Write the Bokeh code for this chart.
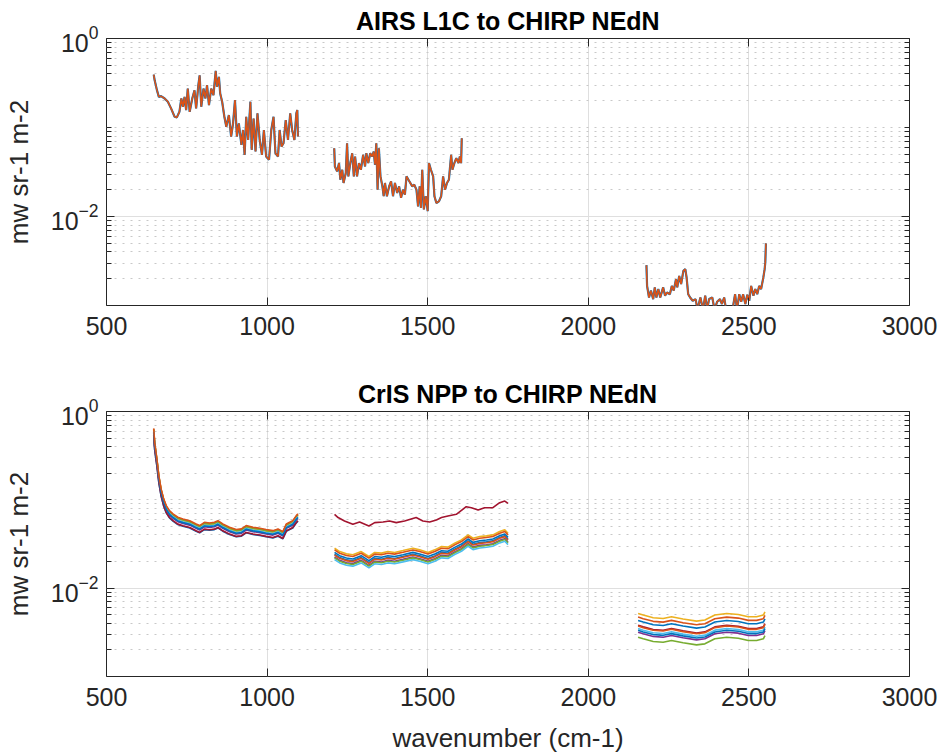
import numpy as np
from bokeh.plotting import figure
from bokeh.models import Range1d, FixedTicker, LinearAxis, LogAxis
from bokeh.layouts import column
from bokeh.embed import file_html
from bokeh.resources import INLINE

# ---------------- data ----------------
# AIRS L1C -> CHIRP NEdN (three AIRS bands)
airs_wn_b1 = [647, 650, 657, 663, 670, 681, 691, 701, 712, 719, 727, 733, 738, 743, 748, 753, 759, 767,
              774, 779, 786, 790, 795, 802, 808, 813, 819, 826, 833, 840, 844, 850, 854, 860, 867, 873,
              881, 888, 894, 900, 906, 912, 920, 925, 930, 935, 941, 948, 952, 958, 964, 970, 977, 984,
              990, 997, 1006, 1013, 1020, 1026, 1034, 1039, 1045, 1051, 1058, 1065, 1072, 1078, 1085,
              1091, 1094, 1096]
airs_ne_b1 = [0.393, 0.339, 0.263, 0.221, 0.225, 0.212, 0.195, 0.164, 0.132, 0.130, 0.150, 0.212, 0.171,
              0.221, 0.157, 0.274, 0.150, 0.212, 0.262, 0.164, 0.299, 0.386, 0.171, 0.274, 0.212, 0.299,
              0.178, 0.274, 0.231, 0.432, 0.286, 0.370, 0.241, 0.195, 0.132, 0.102, 0.138, 0.0791, 0.111,
              0.203, 0.0791, 0.111, 0.0637, 0.0938, 0.0493, 0.132, 0.0724, 0.195, 0.0561, 0.126, 0.0537,
              0.144, 0.0724, 0.0493, 0.0938, 0.0472, 0.0434, 0.0938, 0.132, 0.0514, 0.0472, 0.0938,
              0.0611, 0.0665, 0.121, 0.0724, 0.144, 0.0938, 0.0724, 0.144, 0.157, 0.0791]
airs_wn_b2 = [1209, 1211, 1218, 1224, 1228, 1234, 1238, 1245, 1249, 1253, 1259, 1265, 1270, 1274, 1280,
              1286, 1292, 1299, 1305, 1309, 1315, 1321, 1327, 1332, 1336, 1340, 1344, 1348, 1353, 1359,
              1363, 1367, 1373, 1380, 1386, 1392, 1398, 1405, 1411, 1417, 1423, 1429, 1434, 1440, 1446,
              1452, 1458, 1465, 1470, 1475, 1479, 1483, 1488, 1494, 1500, 1504, 1510, 1517, 1521, 1527,
              1535, 1542, 1548, 1554, 1560, 1566, 1573, 1577, 1583, 1589, 1596, 1600, 1604, 1606]
airs_ne_b2 = [0.0585, 0.0365, 0.0321, 0.0398, 0.0259, 0.0335, 0.0238, 0.0308, 0.0665, 0.0282, 0.0398,
              0.0514, 0.0282, 0.0472, 0.0282, 0.0398, 0.0335, 0.0493, 0.0365, 0.0514, 0.0398, 0.0514,
              0.0472, 0.0537, 0.0381, 0.0665, 0.0200, 0.0585, 0.0282, 0.0218, 0.0169, 0.0238, 0.0169,
              0.0218, 0.0248, 0.0169, 0.0238, 0.0184, 0.0218, 0.0162, 0.0200, 0.0176, 0.0282, 0.0259,
              0.0238, 0.0218, 0.0228, 0.0200, 0.0130, 0.0218, 0.0125, 0.0335, 0.0120, 0.0169, 0.0115,
              0.0398, 0.0335, 0.0282, 0.0169, 0.0142, 0.0148, 0.0169, 0.0282, 0.0200, 0.0238, 0.0259,
              0.0493, 0.0335, 0.0398, 0.0452, 0.0398, 0.0472, 0.0398, 0.0757]
airs_wn_b3 = [2181, 2183, 2189, 2195, 2202, 2207, 2212, 2218, 2224, 2233, 2239, 2245, 2254, 2260, 2266,
              2273, 2277, 2283, 2289, 2296, 2302, 2306, 2311, 2317, 2325, 2334, 2340, 2349, 2357, 2364,
              2370, 2376, 2386, 2393, 2401, 2410, 2416, 2423, 2429, 2439, 2449, 2457, 2463, 2470, 2476,
              2482, 2489, 2495, 2501, 2507, 2514, 2520, 2526, 2532, 2538, 2545, 2549, 2551, 2553]
airs_ne_b3 = [0.00284, 0.00166, 0.00123, 0.00147, 0.00118, 0.00160, 0.00123, 0.00153, 0.00123, 0.00160,
              0.00129, 0.00140, 0.00134, 0.00166, 0.00147, 0.00198, 0.00160, 0.00215, 0.00174, 0.00245,
              0.00256, 0.00207, 0.00134, 0.00123, 0.00113, 0.00118, 0.00090, 0.00123, 0.00090, 0.00129,
              0.00090, 0.00118, 0.00123, 0.00090, 0.00110, 0.00118, 0.00104, 0.00123, 0.00090, 0.00088,
              0.00090, 0.00134, 0.00090, 0.00134, 0.00110, 0.00134, 0.00104, 0.00132, 0.00113, 0.00166,
              0.00129, 0.00153, 0.00134, 0.00166, 0.00153, 0.00207, 0.00256, 0.00303, 0.00499]

# CrIS NPP -> CHIRP NEdN: band-mean curves and per-FOV scale factors (9 FOVs)
cris_wn_b1 = [647, 650, 657, 663, 670, 678, 686, 696, 707, 722, 738, 759, 779, 790, 805, 821, 836, 847,
              862, 883, 904, 920, 935, 956, 977, 997, 1018, 1034, 1049, 1060, 1070, 1080, 1091, 1096]
cris_ne_b1 = [0.585, 0.406, 0.263, 0.171, 0.121, 0.0933, 0.0782, 0.0686, 0.0631, 0.0577, 0.0552, 0.0528,
              0.0485, 0.0465, 0.0506, 0.0498, 0.0506, 0.0528, 0.0485, 0.0445, 0.0419, 0.0426, 0.0465,
              0.0445, 0.0434, 0.0419, 0.0407, 0.0426, 0.0397, 0.0485, 0.0506, 0.0528, 0.0603, 0.0630]
cris_wn_b2 = [1210, 1226, 1247, 1267, 1293, 1317, 1335, 1356, 1376, 1397, 1423, 1454, 1475, 1501, 1522,
              1543, 1563, 1584, 1605, 1626, 1641, 1662, 1683, 1703, 1724, 1740, 1750]
cris_ne_b2 = [0.0242, 0.0222, 0.0209, 0.0204, 0.0222, 0.0195, 0.0217, 0.0213, 0.0222, 0.0217, 0.0228,
              0.0242, 0.0232, 0.0217, 0.0232, 0.0253, 0.0249, 0.0276, 0.0301, 0.0343, 0.0314, 0.0328,
              0.0334, 0.0343, 0.0374, 0.0391, 0.0358]
cris_wn_b2_fov7 = [1210, 1221, 1241, 1267, 1288, 1317, 1335, 1361, 1381, 1402, 1428, 1464, 1485, 1506,
                   1527, 1543, 1563, 1589, 1620, 1636, 1657, 1677, 1703, 1724, 1740, 1750]
cris_ne_b2_fov7 = [0.0686, 0.0630, 0.0577, 0.0528, 0.0562, 0.0506, 0.0552, 0.0562, 0.0577, 0.0552,
                   0.0577, 0.0630, 0.0577, 0.0562, 0.0592, 0.0630, 0.0656, 0.0686, 0.0836, 0.0815,
                   0.0767, 0.0815, 0.0815, 0.0929, 0.0968, 0.0912]
cris_wn_b3 = [2155, 2171, 2202, 2233, 2259, 2295, 2337, 2363, 2394, 2431, 2467, 2498, 2524, 2545, 2550]
cris_ne_b3 = [0.00392, 0.00376, 0.00351, 0.00344, 0.00360, 0.00339, 0.00321, 0.00330, 0.00376, 0.00392,
              0.00382, 0.00360, 0.00360, 0.00376, 0.00409]
fov_scale_b1 = [0.91, 1.08, 1.05, 0.98, 1.07, 1.02, 0.92, 1.00, 1.10]
fov_scale_b2 = [1.00, 0.98, 1.17, 0.93, 0.91, 0.87, None, 1.05, 1.12]
fov_scale_b3 = [1.10, 1.20, 1.32, 0.81, 0.71, 0.89, 0.97, 0.85, 0.95]

x_ticks = [500, 1000, 1500, 2000, 2500, 3000]
y_major_ticks = [0.01, 1.0]

# ---------------- styling ----------------
COLORS = ["#0072BD", "#D95319", "#EDB120", "#7E2F8E", "#77AC30", "#4DBEEE", "#A2142F"]
AX = "#262626"
FONT = "Liberation Sans"
y_minor = [m * 10.0 ** k for k in (-3, -2, -1) for m in range(2, 10)] + [0.1]


def make_panel(title, xlabel, border_bottom, frame_h):
    p = figure(frame_width=803, frame_height=frame_h,
               x_range=Range1d(500, 3000), y_range=Range1d(1e-3, 1),
               y_axis_type="log", output_backend="svg", toolbar_location=None,
               min_border_left=99, min_border_right=32, min_border_top=30,
               min_border_bottom=border_bottom, title=title)
    p.background_fill_color = "white"
    p.border_fill_color = "white"
    p.outline_line_color = AX
    p.outline_line_width = 1
    p.title.align = "center"
    p.title.text_font = FONT
    p.title.text_font_size = "25px"
    p.title.text_font_style = "bold"
    p.title.text_color = "black"
    p.title.standoff = 8

    bottom = p.below[0]
    left = p.left[0]

    xt = FixedTicker(ticks=x_ticks, minor_ticks=[])
    yt = FixedTicker(ticks=y_major_ticks, minor_ticks=y_minor)
    bottom.ticker = xt
    left.ticker = yt

    top = LinearAxis(ticker=xt)
    right = LogAxis(ticker=yt)
    for ax in (top, right):
        ax.major_label_text_font_size = "1px"
        ax.major_label_text_color = None
        ax.major_label_standoff = 0
    p.add_layout(top, "above")
    p.add_layout(right, "right")

    for ax in (bottom, left, top, right):
        ax.axis_line_color = None
        ax.major_tick_in = 8
        ax.major_tick_out = 0
        ax.minor_tick_in = 5
        ax.minor_tick_out = 0
        ax.major_tick_line_color = AX
        ax.minor_tick_line_color = AX
    for ax in (bottom, left):
        ax.major_label_text_font = FONT
        ax.major_label_text_font_size = "25px"
        ax.major_label_text_color = AX
        ax.axis_label_text_font = FONT
        ax.axis_label_text_font_size = "26px"
        ax.axis_label_text_font_style = "normal"
        ax.axis_label_text_color = AX
    bottom.major_label_standoff = 11
    left.major_label_standoff = 8
    left.axis_label = "mw sr-1 m-2"
    left.axis_label_standoff = 14
    if xlabel:
        bottom.axis_label = xlabel
        bottom.axis_label_standoff = 14

    p.xgrid.ticker = FixedTicker(ticks=x_ticks)
    p.ygrid.ticker = yt
    p.xgrid.grid_line_color = "#dfdfdf"
    p.ygrid.grid_line_color = "#dfdfdf"
    p.ygrid.minor_grid_line_color = "#c8c8c8"
    p.ygrid.minor_grid_line_dash = "2 6"
    return p


p1 = make_panel("AIRS L1C to CHIRP NEdN", None, 68, 267)
for wn, ne in ((airs_wn_b1, airs_ne_b1), (airs_wn_b2, airs_ne_b2), (airs_wn_b3, airs_ne_b3)):
    p1.line(wn, ne, line_color=COLORS[0], line_width=2.2)
    p1.line(wn, ne, line_color=COLORS[1], line_width=1.6)

p2 = make_panel("CrIS NPP to CHIRP NEdN", "wavenumber (cm-1)", 70, 265)
for i in range(9):
    c = COLORS[i % 7]
    p2.line(cris_wn_b1, [v * fov_scale_b1[i] for v in cris_ne_b1], line_color=c, line_width=1.6)
    if fov_scale_b2[i] is None:
        p2.line(cris_wn_b2_fov7, cris_ne_b2_fov7, line_color=c, line_width=1.6)
    else:
        p2.line(cris_wn_b2, [v * fov_scale_b2[i] for v in cris_ne_b2], line_color=c, line_width=1.6)
    p2.line(cris_wn_b3, [v * fov_scale_b3[i] for v in cris_ne_b3], line_color=c, line_width=1.6)

layout = column(p1, p2, spacing=0)
open("out.html", "w").write(file_html(layout, INLINE))
